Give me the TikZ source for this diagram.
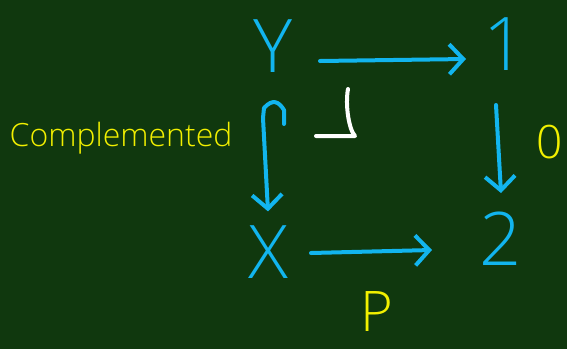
\documentclass[tikz,border=0pt]{standalone}
\usepackage{fontspec}
\setmainfont{Open Sans}
\usetikzlibrary{arrows.meta,calc}
\definecolor{board}{HTML}{10380E}
\definecolor{chalkblue}{HTML}{12B5EE}
\definecolor{chalkyellow}{HTML}{F2F000}
\tikzset{
  obj/.style={text=chalkblue, font=\fontsize{74}{76}\selectfont\fontspec{Open Sans Light}, inner sep=0pt},
  lbl/.style={text=chalkyellow, font=\fontsize{46}{48}\selectfont\fontspec{Open Sans Light}, inner sep=0pt},
  tip/.style={-{Straight Barb[length=14pt,width=30pt,line width=4pt]}},
  arr/.style={draw=chalkblue, line width=4pt, line cap=round, line join=round, tip}
}
\begin{document}
\begin{tikzpicture}[x=1pt,y=-1pt]
\fill[board] (0,0) rectangle (567,349);
\useasboundingbox (0,0) rectangle (567,349);
\node[obj] (Y) at (273,46) {Y};
\node[obj] (one) at (505,44) {1};
\node[obj] (X) at (268,252) {X};
\node[obj] (two) at (501,239) {2};
\node[lbl, font=\fontsize{32}{34}\selectfont\fontspec{Open Sans Light}] (comp) at (121,138) {Complemented};
\node[lbl] (zero) at (550,142) {0};
\node[lbl, font=\fontsize{56}{58}\selectfont\fontspec{Open Sans Light}] (P) at (377,312) {P};
\coordinate (pbh) at (316,136);
\coordinate (pbc) at (355,136);
\coordinate (pbv) at (348,89);
\draw[white, line width=4pt, line cap=round, line join=round] (pbh) -- (pbc) .. controls (349,130) and (345,105) .. (pbv);
\draw[arr] ($(Y.center)+(47,15)$) -- ($(one.center)+(-39,15)$);
\draw[arr] ($(Y.center)+(11,78)$) -- ($(Y.center)+(11,64)$) .. controls ($(Y.center)+(6,56)$) and ($(Y.center)+(0,52)$) .. ($(Y.center)+(-9,62)$) -- ($(Y.center)+(-10,72)$) -- ($(X.north)+(0,-14)$);
\draw[arr] ($(one.center)+(-9,61)$) -- ($(two.north)+(0,-19)$);
\draw[arr] ($(X.center)+(43,1)$) -- ($(two.center)+(-69,11)$);
\end{tikzpicture}
\end{document}
